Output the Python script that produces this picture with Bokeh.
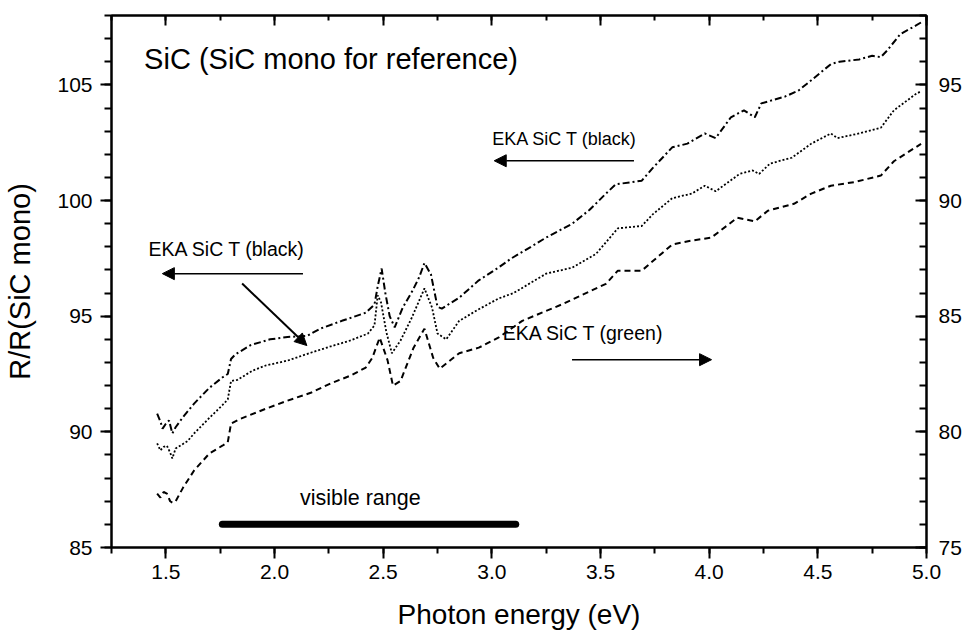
from bokeh.plotting import figure
from bokeh.models import Range1d, LinearAxis, Arrow, NormalHead, Label, FixedTicker, PrintfTickFormatter
from bokeh.embed import file_html
from bokeh.resources import INLINE

FONT = "Liberation Sans"

# ---- data ----
# EKA SiC T (black) - dash-dot, left axis
dd_x = [1.460, 1.475, 1.485, 1.500, 1.515, 1.530, 1.545, 1.580, 1.630, 1.700, 1.760, 1.785,
        1.800, 1.820, 1.890, 1.980, 2.060, 2.150, 2.210, 2.310, 2.420, 2.460, 2.475, 2.493,
        2.510, 2.530, 2.553, 2.590, 2.635, 2.665, 2.690, 2.720, 2.750, 2.770, 2.850, 2.940,
        3.030, 3.090, 3.180, 3.250, 3.370, 3.450, 3.525, 3.570, 3.690, 3.740, 3.830, 3.900,
        3.980, 4.030, 4.100, 4.160, 4.210, 4.240, 4.350, 4.410, 4.470, 4.560, 4.600, 4.690,
        4.750, 4.790, 4.820, 4.880, 4.950, 4.975]
dd_y = [90.79, 90.45, 90.14, 90.35, 90.49, 89.93, 90.20, 90.65, 91.22, 91.90, 92.35, 92.50,
        93.15, 93.35, 93.75, 94.00, 94.10, 94.15, 94.46, 94.80, 95.15, 95.50, 96.30, 97.06,
        96.00, 95.00, 94.52, 95.37, 96.10, 96.67, 97.30, 96.80, 95.40, 95.33, 95.80, 96.55,
        97.10, 97.50, 98.00, 98.40, 99.00, 99.60, 100.30, 100.70, 100.86, 101.40, 102.30, 102.46,
        102.90, 102.70, 103.60, 103.90, 103.60, 104.20, 104.50, 104.75, 105.20, 105.90, 106.00, 106.10,
        106.26, 106.20, 106.50, 107.20, 107.56, 107.70]

# EKA SiC T (black) - dotted, left axis
dt_x = [1.460, 1.475, 1.490, 1.505, 1.520, 1.530, 1.545, 1.600, 1.630, 1.700, 1.760, 1.785,
        1.800, 1.830, 1.900, 1.960, 2.060, 2.170, 2.260, 2.350, 2.430, 2.460, 2.475, 2.490,
        2.515, 2.540, 2.580, 2.630, 2.690, 2.725, 2.750, 2.790, 2.850, 2.940, 3.030, 3.100,
        3.250, 3.370, 3.480, 3.580, 3.690, 3.740, 3.830, 3.920, 3.980, 4.030, 4.140, 4.200,
        4.230, 4.280, 4.380, 4.470, 4.560, 4.590, 4.690, 4.790, 4.850, 4.950, 4.970]
dt_y = [89.50, 89.20, 89.35, 89.40, 89.10, 88.85, 89.28, 89.60, 89.93, 90.60, 91.15, 91.40,
        92.20, 92.25, 92.65, 92.87, 93.08, 93.43, 93.70, 93.95, 94.25, 94.60, 95.90, 95.60,
        94.30, 93.40, 93.95, 94.90, 96.20, 95.37, 94.25, 94.00, 94.80, 95.30, 95.76, 96.00,
        96.84, 97.10, 97.70, 98.80, 98.90, 99.40, 100.10, 100.30, 100.64, 100.40, 101.15, 101.30,
        101.15, 101.60, 101.85, 102.46, 102.90, 102.70, 102.90, 103.15, 103.90, 104.60, 104.70]

# EKA SiC T (green) - dashed, right axis
ds_x = [1.460, 1.475, 1.490, 1.505, 1.520, 1.530, 1.545, 1.580, 1.630, 1.700, 1.760, 1.785,
        1.800, 1.840, 1.960, 2.060, 2.170, 2.260, 2.350, 2.420, 2.450, 2.484, 2.520, 2.545,
        2.580, 2.640, 2.690, 2.730, 2.760, 2.850, 2.940, 3.030, 3.140, 3.320, 3.525, 3.580,
        3.690, 3.830, 3.920, 4.010, 4.130, 4.210, 4.270, 4.390, 4.470, 4.560, 4.670, 4.790,
        4.850, 4.950, 4.975]
ds_y = [77.33, 77.16, 77.40, 77.33, 77.00, 76.94, 77.00, 77.60, 78.33, 79.06, 79.40, 79.55,
        80.36, 80.55, 81.00, 81.35, 81.70, 82.10, 82.43, 82.78, 83.20, 84.07, 83.10, 82.00,
        82.20, 83.64, 84.46, 83.20, 82.73, 83.40, 83.64, 84.07, 84.80, 85.50, 86.40, 86.97,
        86.97, 88.10, 88.27, 88.40, 89.26, 89.10, 89.56, 89.86, 90.30, 90.64, 90.80, 91.08,
        91.70, 92.30, 92.45]

visible_x = [1.76, 3.11]
visible_y = [86.0, 86.0]

x_ticks = [1.5, 2.0, 2.5, 3.0, 3.5, 4.0, 4.5, 5.0]
x_minor = [1.25, 1.5, 1.75, 2.0, 2.25, 2.5, 2.75, 3.0, 3.25, 3.5, 3.75, 4.0, 4.25, 4.5, 4.75, 5.0]
yl_ticks = [85, 90, 95, 100, 105]
yr_ticks = [75, 80, 85, 90, 95]

# ---- figure ----
p = figure(width=964, height=632, output_backend="svg", toolbar_location=None,
           x_range=Range1d(1.25, 5.0), y_range=Range1d(85, 108),
           min_border_left=111, min_border_right=38, min_border_top=15, min_border_bottom=85,
           x_axis_label="Photon energy (eV)", y_axis_label="R/R(SiC mono)")
p.extra_y_ranges = {"right": Range1d(75, 98)}
p.grid.visible = False
p.outline_line_color = "black"
p.outline_line_width = 2
p.background_fill_color = "white"
p.border_fill_color = "white"

def style_axis(ax, size="21px"):
    ax.axis_line_width = 2
    ax.major_tick_line_width = 2
    ax.minor_tick_line_width = 2
    ax.major_label_text_font = FONT
    ax.major_label_text_font_size = size
    ax.major_label_text_color = "black"
    ax.axis_label_text_font = FONT
    ax.axis_label_text_font_style = "normal"
    ax.axis_label_text_font_size = "28px"
    ax.axis_label_text_color = "black"

xa = p.xaxis[0]
xa.ticker = FixedTicker(ticks=x_ticks, minor_ticks=x_minor)
xa.formatter = PrintfTickFormatter(format="%.1f")
style_axis(xa)
xa.major_tick_out = 11
xa.major_tick_in = 0
xa.minor_tick_out = 6
xa.minor_tick_in = 0
xa.major_label_standoff = 6
xa.axis_label_standoff = 17
xa.axis_label_text_line_height = 0.8

ya = p.yaxis[0]
ya.ticker = FixedTicker(ticks=yl_ticks, minor_ticks=list(range(85, 109)))
style_axis(ya)
ya.axis_label_text_font_size = "29px"
ya.major_tick_out = 11
ya.major_tick_in = 0
ya.minor_tick_out = 7
ya.minor_tick_in = 0
ya.major_label_standoff = 8
ya.axis_label_standoff = 18

ra = LinearAxis(y_range_name="right",
                ticker=FixedTicker(ticks=yr_ticks, minor_ticks=list(range(75, 99))))
style_axis(ra)
ra.major_tick_out = 0
ra.major_tick_in = 11
ra.minor_tick_out = 0
ra.minor_tick_in = 7
ra.major_label_standoff = 12
p.add_layout(ra, "right")

ta = LinearAxis(ticker=FixedTicker(ticks=x_ticks, minor_ticks=x_minor))
style_axis(ta)
ta.major_tick_out = 0
ta.major_tick_in = 10
ta.minor_tick_out = 0
ta.minor_tick_in = 5
ta.major_label_overrides = {t: "" for t in x_ticks}
ta.major_label_text_font_size = "1px"
ta.major_label_standoff = 0
p.add_layout(ta, "above")

# ---- curves ----
p.line(dd_x, dd_y, line_color="black", line_width=2, line_dash="7 3 2 3")
p.line(dt_x, dt_y, line_color="black", line_width=1.8, line_dash="2 2")
p.line(ds_x, ds_y, line_color="black", line_width=2, line_dash="6 4", y_range_name="right")

p.line(visible_x, visible_y, line_color="black", line_width=7, line_cap="round")

# ---- annotations ----
def label(x, y, text, size):
    p.add_layout(Label(x=x, y=y, text=text, text_font=FONT, text_font_size=size,
                       text_color="black", text_baseline="middle", text_align="left"))

label(1.40, 106.1, "SiC (SiC mono for reference)", "29px")
label(3.002, 102.67, "EKA SiC T (black)", "18px")
label(1.42, 97.92, "EKA SiC T (black)", "19.5px")
label(3.05, 94.29, "EKA SiC T (green)", "19.5px")
label(2.117, 87.16, "visible range", "21.5px")

def arrow(x0, y0, x1, y1, w=1.5):
    p.add_layout(Arrow(end=NormalHead(size=12, fill_color="black", line_color="black"),
                       x_start=x0, y_start=y0, x_end=x1, y_end=y1,
                       line_color="black", line_width=w))

arrow(3.654, 101.72, 3.011, 101.72)
arrow(2.131, 96.84, 1.484, 96.84)
arrow(1.851, 96.41, 2.149, 93.73, 2)
arrow(3.369, 93.12, 4.011, 93.12)

open("out.html", "w").write(file_html(p, INLINE))
